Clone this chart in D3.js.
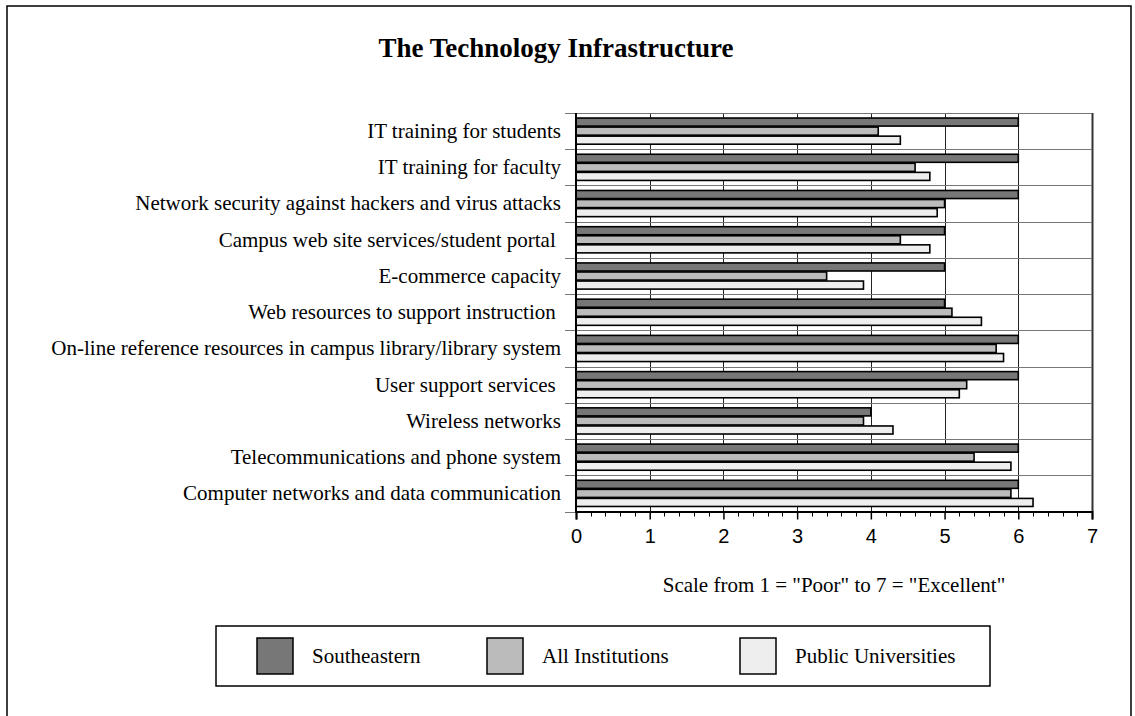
<!DOCTYPE html>
<html>
<head>
<meta charset="utf-8">
<script src="https://cdn.jsdelivr.net/npm/d3@7"></script>
<style>
  body { margin: 0; background: #fff; }
  svg text { fill: #000; }
  .cat { font-family: "Liberation Serif", "Times New Roman", serif; font-size: 21px; white-space: pre; }
  .tick-lbl { font-family: "Liberation Sans", Arial, sans-serif; font-size: 20px; }
</style>
</head>
<body>
<div id="chart"></div>
<script>
const categories = [
  "IT training for students",
  "IT training for faculty",
  "Network security against hackers and virus attacks",
  "Campus web site services/student portal ",
  "E-commerce capacity",
  "Web resources to support instruction ",
  "On-line reference resources in campus library/library system",
  "User support services ",
  "Wireless networks",
  "Telecommunications and phone system",
  "Computer networks and data communication"
];
const seriesNames = ["Southeastern", "All Institutions", "Public Universities"];
const southeastern = [6, 6, 6, 5, 5, 5, 6, 6, 4, 6, 6];
const allInstitutions = [4.1, 4.6, 5.0, 4.4, 3.4, 5.1, 5.7, 5.3, 3.9, 5.4, 5.9];
const publicUniversities = [4.4, 4.8, 4.9, 4.8, 3.9, 5.5, 5.8, 5.2, 4.3, 5.9, 6.2];
const xTicks = [0, 1, 2, 3, 4, 5, 6, 7];

const seriesValues = [southeastern, allInstitutions, publicUniversities];
const colors = ["#777777", "#bbbbbb", "#eeeeee"];

const W = 1135, H = 716;
const plot = { left: 576, right: 1092, top: 113, bottom: 511.5 };

const svg = d3.select("#chart").append("svg")
  .attr("width", W).attr("height", H);

// outer frame
svg.append("rect")
  .attr("x", 7).attr("y", 6)
  .attr("width", 1124).attr("height", 760)
  .attr("fill", "none").attr("stroke", "#000").attr("stroke-width", 1.5);

svg.append("text")
  .attr("x", 556).attr("y", 57)
  .attr("text-anchor", "middle")
  .style("font-family", '"Liberation Serif", "Times New Roman", serif')
  .style("font-size", "27px").style("font-weight", "bold")
  .text("The Technology Infrastructure");

const x = d3.scaleLinear().domain([0, 7]).range([plot.left, plot.right]);

const y0 = d3.scaleBand()
  .domain(categories)
  .range([plot.top, plot.bottom])
  .paddingInner(0.25)
  .paddingOuter(0.125);

const y1 = d3.scaleBand()
  .domain(seriesNames)
  .range([0, y0.bandwidth()]);

const half = (y0.step() - y0.bandwidth()) / 2;
const bounds = categories.map(c => y0(c) - half);
bounds.push(plot.bottom);

// vertical grid lines
svg.append("g").selectAll("line")
  .data(xTicks.slice(1))
  .enter().append("line")
  .attr("x1", d => Math.round(x(d)) + 0.5).attr("x2", d => Math.round(x(d)) + 0.5)
  .attr("y1", plot.top).attr("y2", plot.bottom)
  .attr("stroke", d => d === 7 ? "#333" : "#222")
  .attr("stroke-width", d => d === 7 ? 2 : 1);

// category boundary lines + y ticks
svg.append("g").selectAll("line")
  .data(bounds)
  .enter().append("line")
  .attr("x1", 565).attr("x2", plot.right)
  .attr("y1", d => Math.round(d) + 0.5).attr("y2", d => Math.round(d) + 0.5)
  .attr("stroke", "#777").attr("stroke-width", 1.2);

// bars
const groups = svg.append("g").selectAll("g")
  .data(categories)
  .enter().append("g")
  .attr("transform", d => `translate(0,${y0(d)})`);

groups.selectAll("rect")
  .data((d, i) => seriesNames.map((s, j) => ({ s, j, v: seriesValues[j][i] })))
  .enter().append("rect")
  .attr("x", x(0))
  .attr("y", d => y1(d.s) + 0.5)
  .attr("width", d => x(d.v) - x(0))
  .attr("height", y1.bandwidth() - 1)
  .attr("fill", d => colors[d.j])
  .attr("stroke", "#000")
  .attr("stroke-width", 1.6);

// category labels
svg.append("g").selectAll("text")
  .data(categories)
  .enter().append("text")
  .attr("class", "cat")
  .attr("x", 561)
  .attr("y", d => y0(d) + y0.bandwidth() / 2)
  .attr("dy", "0.33em")
  .attr("text-anchor", "end")
  .text(d => d);

// y axis line
svg.append("line")
  .attr("x1", plot.left).attr("x2", plot.left)
  .attr("y1", plot.top).attr("y2", plot.bottom + 1)
  .attr("stroke", "#000").attr("stroke-width", 2);

// x axis
const minor = d3.range(0, 35).map(i => i / 5).filter(v => Math.abs(v - Math.round(v)) > 1e-6);
svg.append("g").selectAll("line")
  .data(minor)
  .enter().append("line")
  .attr("x1", d => Math.round(x(d)) + 0.5).attr("x2", d => Math.round(x(d)) + 0.5)
  .attr("y1", plot.bottom).attr("y2", plot.bottom + 5)
  .attr("stroke", "#000").attr("stroke-width", 1);

const xAxis = svg.append("g")
  .attr("transform", `translate(0,${plot.bottom})`)
  .call(d3.axisBottom(x).tickValues(xTicks).tickFormat(d3.format("d")).tickSize(8).tickPadding(9));
xAxis.select(".domain").attr("stroke", "#000").attr("stroke-width", 2);
xAxis.selectAll(".tick line").attr("stroke", "#000").attr("stroke-width", 1.5);
xAxis.selectAll(".tick text").attr("class", "tick-lbl").attr("font-family", null).attr("font-size", null);

svg.append("text")
  .attr("class", "cat")
  .attr("x", 834).attr("y", 592)
  .attr("text-anchor", "middle")
  .text('Scale from 1 = "Poor" to 7 = "Excellent"');

// legend
const legend = svg.append("g");
legend.append("rect")
  .attr("x", 216).attr("y", 626)
  .attr("width", 774).attr("height", 60)
  .attr("fill", "#fff").attr("stroke", "#000").attr("stroke-width", 1.5);

const legendX = [257, 487, 740];
const item = legend.selectAll("g.item")
  .data(seriesNames)
  .enter().append("g")
  .attr("class", "item")
  .attr("transform", (d, i) => `translate(${legendX[i]},638)`);

item.append("rect")
  .attr("width", 36).attr("height", 36)
  .attr("fill", (d, i) => colors[i])
  .attr("stroke", "#000").attr("stroke-width", 1.5);

item.append("text")
  .attr("class", "cat")
  .attr("x", 55).attr("y", 18)
  .attr("dy", "0.33em")
  .text(d => d);
</script>
</body>
</html>
